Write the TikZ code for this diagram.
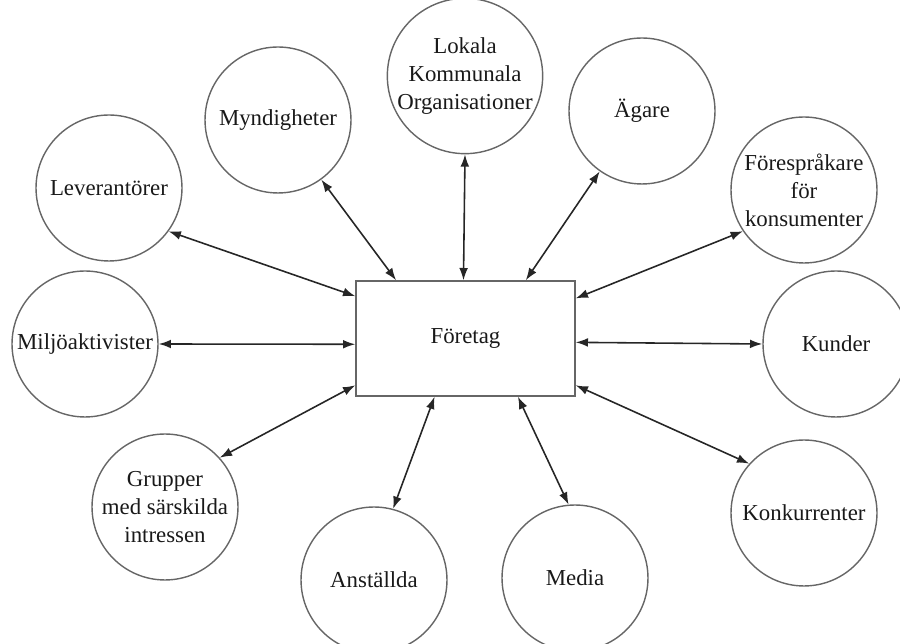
\documentclass[tikz,border=0pt]{standalone}
\usepackage{fontspec}
\setmainfont{Liberation Serif}
\usetikzlibrary{arrows.meta}

\begin{document}
\begin{tikzpicture}[x=0.02cm,y=-0.02cm,font=\fontsize{13}{16}\selectfont,
  party/.style={circle,draw=black!60,line width=0.8pt,minimum size=2.92cm,inner sep=0pt,align=center,text=black!90},
  link/.style={{Latex[length=7pt,width=5pt]}-{Latex[length=7pt,width=5pt]},line width=0.9pt,draw=black!85}]
  \useasboundingbox (0,0) rectangle (900,644);
  \node[draw=black!60,line width=0.8pt,minimum width=4.38cm,minimum height=2.3cm,text=black!90] (firm) at (465.5,338.5) {Företag};
  % stakeholders
  \node[party] (lev) at (109,188) {Leverantörer};
  \node[party] (myn) at (278,120) {Myndigheter};
  \node[party] (lok) at (465,76) {Lokala\\Kommunala\\Organisationer};
  \node[party] (aga) at (642,111) {Ägare};
  \node[party] (kons) at (804,190) {Förespråkare\\för\\konsumenter};
  \node[party] (milj) at (85,344) {Miljöaktivister};
  \node[party] (kund) at (836,344) {Kunder};
  \node[party] (grp) at (165,507) {Grupper\\med särskilda\\intressen};
  \node[party] (anst) at (374,580) {Anställda};
  \node[party] (med) at (575,578) {Media};
  \node[party] (konk) at (804,513) {Konkurrenter};
  % connectors
  \draw[link] (lev.-36) -- (firm.159.2);
  \draw[link] (myn.-54) -- (firm.140.8);
  \draw[link] (lok.-90) -- (firm.92.5);
  \draw[link] (aga.-125) -- (firm.44.5);
  \draw[link] (kons.-146) -- (firm.20.8);
  \draw[link] (milj.0) -- (firm.-177.6);
  \draw[link] (kund.180) -- (firm.-2.4);
  \draw[link] (grp.42) -- (firm.-157);
  \draw[link] (anst.75) -- (firm.-118);
  \draw[link] (med.95) -- (firm.-48.2);
  \draw[link] (konk.138) -- (firm.-23);
\end{tikzpicture}
\end{document}
